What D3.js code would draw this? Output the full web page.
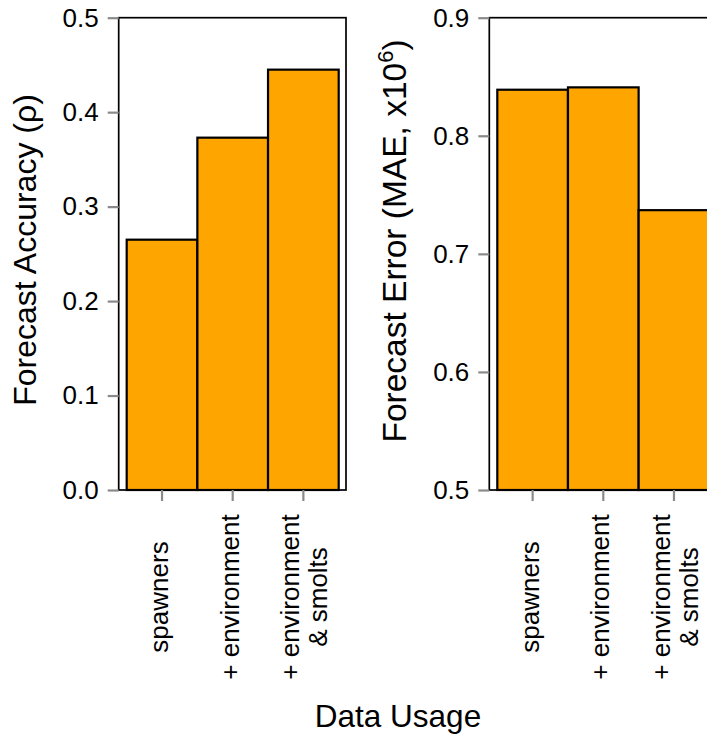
<!DOCTYPE html>
<html>
<head>
<meta charset="utf-8">
<script src="https://cdn.jsdelivr.net/npm/d3@7"></script>
<style>
  body { margin: 0; background: #fff; }
  svg { display: block; font-family: "Liberation Sans", Arial, Helvetica, sans-serif; }
</style>
</head>
<body>
<svg id="chart" width="707" height="736"></svg>
<script>
// data
const categories = ['spawners', '+ environment', '+ environment & smolts'];
const categoryLines = [['spawners'], ['+ environment'], ['+ environment', '& smolts']];
const accuracy = [0.265, 0.373, 0.445];
const maeError = [0.839, 0.841, 0.737];
const accuracyTicks = [0, 0.1, 0.2, 0.3, 0.4, 0.5];
const errorTicks = [0.5, 0.6, 0.7, 0.8, 0.9];

const svg = d3.select('#chart');
const plotTop = 17.7, plotBottom = 490;

// draw one barplot panel
function drawPanel(g, boxLeft, boxRight, values, domain, ticks, title, titleX, titleY, titleSize) {
    const x = d3
        .scaleBand()
        .domain(categories)
        .range([boxLeft + 8, boxRight - 7.3])
        .padding(0);

    const y = d3
        .scaleLinear()
        .domain(domain)
        .range([plotBottom, plotTop]);

    const rows = categories.map((c, i) => ({ cat: c, value: values[i], lines: categoryLines[i] }));

    // bars
    g.selectAll('.bar')
        .data(rows)
        .enter()
        .append('rect')
        .attr('class', 'bar')
        .attr('x', d => x(d.cat))
        .attr('y', d => y(d.value))
        .attr('width', x.bandwidth())
        .attr('height', d => y(domain[0]) - y(d.value))
        .attr('fill', '#FFA500')
        .attr('stroke', '#000')
        .attr('stroke-width', 2.2);

    // plot box
    g.append('rect')
        .attr('x', boxLeft)
        .attr('y', plotTop)
        .attr('width', boxRight - boxLeft)
        .attr('height', plotBottom - plotTop)
        .attr('fill', 'none')
        .attr('stroke', '#000')
        .attr('stroke-width', 1.7);

    // y axis: ticks + labels
    const yAxis = d3.axisLeft(y)
        .tickValues(ticks)
        .tickSize(11)
        .tickPadding(9)
        .tickFormat(d3.format('.1f'));
    const ya = g.append('g')
        .attr('transform', `translate(${boxLeft},0)`)
        .call(yAxis);
    ya.select('.domain').remove();
    ya.selectAll('line').attr('stroke', '#8a8a8a').attr('stroke-width', 2.2);
    ya.selectAll('text')
        .attr('font-size', 26)
        .attr('fill', '#000');
    ya.attr('font-family', null).attr('font-size', null);

    // x ticks
    const xAxis = d3.axisBottom(x).tickSize(11).tickFormat('');
    const xa = g.append('g')
        .attr('transform', `translate(0,${plotBottom})`)
        .call(xAxis);
    xa.select('.domain').remove();
    xa.selectAll('line').attr('stroke', '#8a8a8a').attr('stroke-width', 2.2);

    // rotated category labels
    const lab = g.selectAll('.catlabel')
        .data(rows)
        .enter()
        .append('g')
        .attr('class', 'catlabel')
        .attr('transform', d => `translate(${x(d.cat) + x.bandwidth() / 2},597) rotate(-90)`);

    lab.selectAll('text')
        .data(d => d.lines.map((t, i) => ({ t, dy: d.lines.length > 1 ? (i === 0 ? -4 : 24) : 6 })))
        .enter()
        .append('text')
        .attr('x', 0)
        .attr('y', d => d.dy)
        .attr('text-anchor', 'middle')
        .attr('font-size', 26)
        .text(d => d.t);

    // axis title
    const t = g.append('text')
        .attr('transform', `translate(${titleX},${titleY}) rotate(-90)`)
        .attr('text-anchor', 'middle')
        .attr('font-size', titleSize);
    title(t);
}

drawPanel(svg.append('g'), 118.7, 346, accuracy, [0, 0.5], accuracyTicks,
    t => t.text('Forecast Accuracy (\u03C1)'), 36, 250, 32);

drawPanel(svg.append('g'), 489.3, 716.6, maeError, [0.5, 0.9], errorTicks,
    t => {
        t.append('tspan').text('Forecast Error (MAE, x10');
        t.append('tspan').attr('font-size', 22).attr('dy', -13).text('6');
        t.append('tspan').attr('dy', 13).text(')');
    }, 406, 241, 33.5);

// shared x title
svg.append('text')
    .attr('x', 398)
    .attr('y', 727)
    .attr('text-anchor', 'middle')
    .attr('font-size', 31.5)
    .text('Data Usage');
</script>
</body>
</html>
